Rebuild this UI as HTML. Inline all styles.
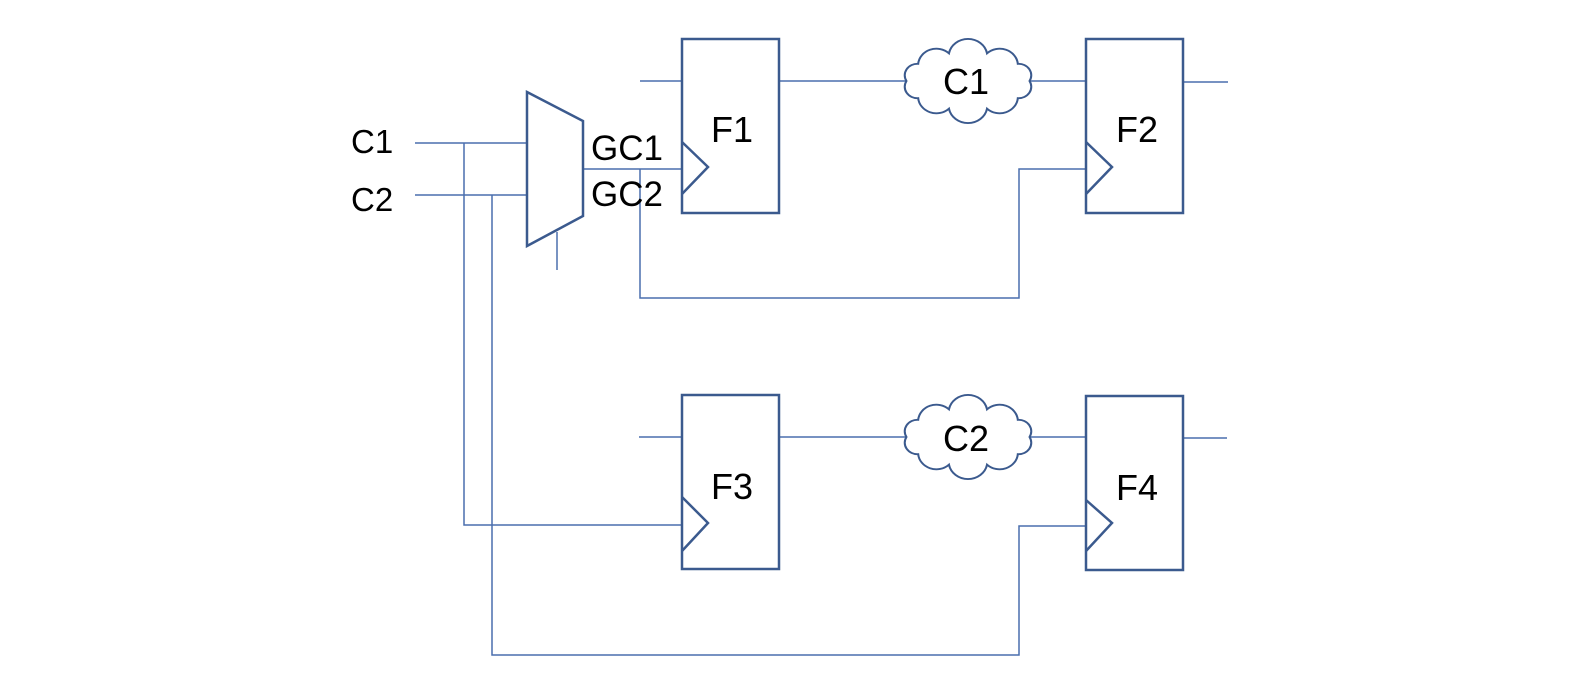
<!DOCTYPE html>
<html><head><meta charset="utf-8"><style>
html,body{margin:0;padding:0;background:#fff;}
svg{display:block;}
text{font-family:"Liberation Sans",sans-serif;fill:#000;}
</style></head><body>
<svg width="1594" height="687" viewBox="0 0 1594 687" xmlns="http://www.w3.org/2000/svg">
<defs>
<path id="cloud" d="M54,0 A11,11 0 0 1 43.7,16.5 A16,16 0 0 1 16.7,26.6 A17,17 0 0 1 -16.7,26.6 A16,16 0 0 1 -43.7,16.5 A11,11 0 0 1 -54,0 A11,11 0 0 1 -43.7,-16.5 A16,16 0 0 1 -16.7,-26.6 A17,17 0 0 1 16.7,-26.6 A16,16 0 0 1 43.7,-16.5 A11,11 0 0 1 54,0 Z" fill="#fff" stroke="#3b5a8e" stroke-width="1.8"/>
</defs>
<g stroke="#4a6fae" stroke-width="1.5" fill="none">
<line x1="415" y1="143" x2="527" y2="143"/>
<line x1="415" y1="195" x2="527" y2="195"/>
<polyline points="464,143 464,525 682,525"/>
<polyline points="492,195 492,655 1019,655 1019,526 1086,526"/>
<line x1="557" y1="232" x2="557" y2="270"/>
<line x1="583" y1="169" x2="682" y2="169"/>
<polyline points="640,169 640,298 1019,298 1019,169 1086,169"/>
<line x1="640" y1="81" x2="682" y2="81"/>
<line x1="779" y1="81" x2="910" y2="81"/>
<line x1="1025" y1="81" x2="1086" y2="81"/>
<line x1="1183" y1="82" x2="1228" y2="82"/>
<line x1="639" y1="437" x2="682" y2="437"/>
<line x1="779" y1="437" x2="910" y2="437"/>
<line x1="1025" y1="437" x2="1086" y2="437"/>
<line x1="1183" y1="438" x2="1227" y2="438"/>
</g>
<g stroke="#3b5a8e" stroke-width="2.5" fill="none">
<polygon points="527,92 583,121 583,216 527,246" fill="#fff"/>
<rect x="682" y="39" width="97" height="174"/>
<rect x="1086" y="39" width="97" height="174"/>
<rect x="682" y="395" width="97" height="174"/>
<rect x="1086" y="396" width="97" height="174"/>
<polyline points="682,142 708,167 682,194"/>
<polyline points="1086,142 1112,167 1086,194"/>
<polyline points="682,497 708,523 682,551"/>
<polyline points="1086,500 1112,523 1086,551"/>
</g>
<use href="#cloud" transform="translate(968,81) scale(1.14,1.04)"/>
<use href="#cloud" transform="translate(968,437) scale(1.14,1.04)"/>
<g font-size="33">
<text x="351" y="153">C1</text>
<text x="351" y="211">C2</text>
<text x="591" y="160" font-size="35">GC1</text>
<text x="591" y="206" font-size="35">GC2</text>
</g>
<g font-size="36" text-anchor="middle">
<text x="966" y="94">C1</text>
<text x="966" y="451">C2</text>
<text x="732" y="142">F1</text>
<text x="1137" y="142">F2</text>
<text x="732" y="499">F3</text>
<text x="1137" y="500">F4</text>
</g>
</svg>
</body></html>
